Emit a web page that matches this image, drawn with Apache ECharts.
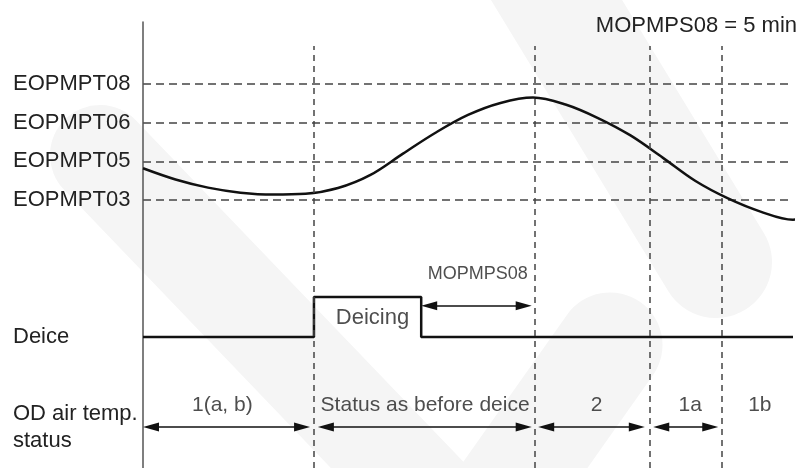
<!DOCTYPE html>
<html>
<head>
<meta charset="utf-8">
<script src="https://cdn.jsdelivr.net/npm/echarts@6/dist/echarts.min.js"></script>
<style>
  html, body { margin: 0; background: #fff; }
  #chart { width: 803px; height: 468px; }
</style>
</head>
<body>
<div id="chart"></div>
<script>
// temperature thresholds (bottom to top)
const tempLevels = ['EOPMPT03', 'EOPMPT05', 'EOPMPT06', 'EOPMPT08']
// OD air temperature curve (time, level)
const tempT = [0, 5, 10, 15, 20, 25, 30, 35, 40, 45, 50, 55, 60, 65, 70, 75, 80, 85, 90, 95, 100, 101.5]
const tempV = [1.82, 1.53, 1.32, 1.19, 1.14, 1.16, 1.31, 1.65, 2.20, 2.74, 3.20, 3.51, 3.65, 3.47, 3.12, 2.67, 2.09, 1.49, 1.04, 0.70, 0.49, 0.53]
// status change moments (dashed)
const eventT = [26.3, 60.3, 78.0, 89.1]
// deice signal
const deiceT = [0, 26.3, 26.3, 42.8, 42.8, 100]
const deiceV = [0, 0, 1, 1, 0, 0]
const deiceEnd = 42.8
const waitEnd = 59.8
// status segments (arrow tips)
const statusNames = ['1(a, b)', 'Status as before deice', '2', '1a', '1b']
const statusMid = [12.2, 43.4, 69.8, 84.2, 94.9]
const statusFrom = [0, 26.9, 60.8, 78.5, 89.7]
const statusTo = [25.7, 59.8, 77.2, 88.5, 100.6]

const font = 'Liberation Sans'
const ink = '#111'
const headLen = 16
const tPerPx = 100 / 650
const inset = headLen / 2 * tPerPx   // markLine symbols sit centred on the end point

const chart = echarts.init(document.getElementById('chart'))

const grids = [
  { left: 143, right: 10, top: 22, bottom: 0 },   // frame
  { left: 143, right: 10, top: 46, bottom: 0 },   // dashed verticals
  { left: 143, right: 10, top: 84, height: 116 }, // temperature
  { left: 143, right: 10, top: 297, height: 40 }, // deice
  { left: 143, right: 10, top: 405, height: 22 }  // status
].map(g => Object.assign(g, { outerBoundsMode: 'none', containLabel: false }))

const xAxes = grids.map((g, i) => ({ type: 'value', gridIndex: i, min: 0, max: 100, show: false }))

const leftLabel = { show: true, align: 'left', margin: 130, fontSize: 22, color: '#222', fontFamily: font }

const yAxes = [
  { type: 'value', gridIndex: 0, min: 0, max: 1,
    axisLine: { show: true, lineStyle: { color: '#555', width: 1.5 } },
    axisTick: { show: false }, axisLabel: { show: false }, splitLine: { show: false } },
  { type: 'value', gridIndex: 1, min: 0, max: 1, show: false },
  { type: 'value', gridIndex: 2, min: 1, max: 4, interval: 1,
    axisLine: { show: false }, axisTick: { show: false },
    axisLabel: Object.assign({}, leftLabel, { formatter: v => tempLevels[v - 1] }),
    splitLine: { show: true, lineStyle: { color: '#444', width: 1.5, type: [8, 5] } } },
  { type: 'value', gridIndex: 3, min: 0, max: 1, interval: 1,
    axisLine: { show: false }, axisTick: { show: false }, splitLine: { show: false },
    axisLabel: Object.assign({}, leftLabel, { formatter: v => v === 0 ? 'Deice' : '' }) },
  { type: 'value', gridIndex: 4, min: 0, max: 1, interval: 1,
    axisLine: { show: false }, axisTick: { show: false }, splitLine: { show: false },
    axisLabel: Object.assign({}, leftLabel, {
      formatter: v => v === 0 ? 'OD air temp.\nstatus' : '',
      lineHeight: 27, padding: [40, 0, 0, 0]
    }) }
]

const arrowLine = { color: ink, width: 1.5, type: 'solid' }

// faint background watermark strokes
const mark = (x1, y1, x2, y2, w) => ({
  type: 'line', silent: true, z: -10,
  shape: { x1, y1, x2, y2 },
  style: { stroke: '#f5f5f5', lineWidth: w, lineCap: 'round' }
})

const option = {
  animation: false,
  graphic: {
    elements: [
      mark(100, 155, 450, 520, 100),
      mark(610, 345, 430, 600, 105),
      mark(520, -60, 716, 262, 112)
    ]
  },
  title: {
    text: 'MOPMPS08 = 5 min', right: 1, top: 10,
    textStyle: { fontSize: 22, fontWeight: 'normal', color: '#222', fontFamily: font }
  },
  grid: grids,
  xAxis: xAxes,
  yAxis: yAxes,
  series: [
    {
      type: 'line', xAxisIndex: 1, yAxisIndex: 1, data: [], silent: true,
      markLine: {
        silent: true, symbol: 'none', label: { show: false },
        lineStyle: { color: '#444', width: 1.5, type: [6, 5] },
        data: eventT.map(t => [{ coord: [t, 0] }, { coord: [t, 1] }])
      }
    },
    {
      type: 'line', xAxisIndex: 2, yAxisIndex: 2, smooth: 0.35, symbol: 'none', clip: false,
      lineStyle: { color: ink, width: 2.5 },
      data: tempT.map((t, i) => [t, tempV[i]])
    },
    {
      type: 'line', xAxisIndex: 3, yAxisIndex: 3, symbol: 'none', clip: false,
      lineStyle: { color: ink, width: 2.5 },
      data: deiceT.map((t, i) => [t, deiceV[i]]),
      markLine: {
        silent: true, label: { show: false },
        data: [
          [{ coord: [deiceEnd, 1], symbol: 'none', lineStyle: { color: '#777', width: 1, type: 'solid' } },
           { coord: [deiceEnd, 7.33], symbol: 'none' }],
          [{ coord: [deiceEnd + inset, 0.78], symbol: 'triangle', symbolSize: [9, headLen], lineStyle: arrowLine },
           { coord: [waitEnd - inset, 0.78], symbol: 'triangle', symbolSize: [9, headLen] }]
        ]
      }
    },
    {
      type: 'scatter', xAxisIndex: 3, yAxisIndex: 3, symbolSize: 0, silent: true, clip: false,
      data: [
        { value: [35.3, 0.48, 'Deicing'], label: { fontSize: 22 } },
        { value: [51.5, 1.58, 'MOPMPS08'], label: { fontSize: 18 } }
      ],
      label: {
        show: true, position: 'inside', color: '#222', fontFamily: font,
        formatter: p => p.value[2]
      }
    },
    {
      type: 'line', xAxisIndex: 4, yAxisIndex: 4, data: [], silent: true,
      markLine: {
        silent: true, label: { show: false }, symbol: ['triangle', 'triangle'], symbolSize: [9, headLen],
        lineStyle: arrowLine,
        data: statusFrom.map((s, i) => {
          const last = i === statusFrom.length - 1
          return [
            { coord: [s + inset, 0] },
            { coord: [last ? statusTo[i] : statusTo[i] - inset, 0], symbol: last ? 'none' : 'triangle' }
          ]
        })
      }
    },
    {
      type: 'scatter', xAxisIndex: 4, yAxisIndex: 4, symbolSize: 0, silent: true, clip: false,
      data: statusMid.map((t, i) => [t, 1, statusNames[i]]),
      label: {
        show: true, position: 'inside', color: '#222', fontFamily: font, fontSize: 21,
        formatter: p => p.value[2]
      }
    }
  ]
}

chart.setOption(option)
</script>
</body>
</html>
